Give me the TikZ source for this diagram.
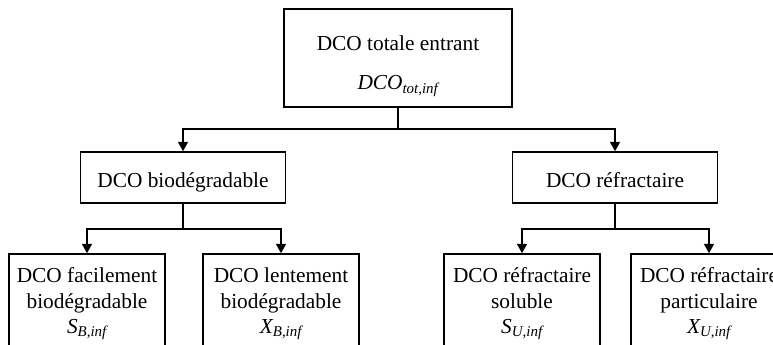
\documentclass[tikz,border=0pt]{standalone}
\usepackage{fontspec}
\setmainfont{Liberation Serif}
\usetikzlibrary{arrows.meta}

\tikzset{
  box/.style={draw, line width=1.2pt, align=center, inner sep=0pt,
    font=\fontsize{16}{19}\selectfont},
  top box/.style={box, minimum width=171pt, minimum height=73.5pt},
  mid box/.style={box, minimum width=153.75pt, minimum height=38.25pt,
    text height=15.6pt, text depth=0pt},
  leaf box/.style={box, minimum width=117pt, minimum height=75pt}
}
\newcommand{\dcovar}[2]{{\itshape #1\textsubscript{#2}}}

\begin{document}
\begin{tikzpicture}[x=0.75pt, y=-0.75pt, >={Triangle[length=7pt,width=7.5pt]}, line width=1.2pt]

  \useasboundingbox (0,0) rectangle (773,344);
  \clip (0,0) rectangle (773,344);

  \node [top box] (total) at (398,58) {\rule{0pt}{23pt}DCO totale entrant\\[10.5pt]\dcovar{DCO}{tot,inf}};

  \node [mid box] (bio) at (183,177.5) {DCO biodégradable};
  \node [mid box] (refr) at (615,177.5) {DCO réfractaire};

  \node [leaf box] (sbinf) at (87,304) {DCO facilement\\biodégradable\\\dcovar{S}{B,inf}};
  \node [leaf box] (xbinf) at (281,304) {DCO lentement\\biodégradable\\\dcovar{X}{B,inf}};
  \node [leaf box] (suinf) at (522,304) {DCO réfractaire\\soluble\\\dcovar{S}{U,inf}};
  \node [leaf box] (xuinf) at (709,304) {DCO réfractaire\\particulaire\\\dcovar{X}{U,inf}};

  \foreach \b in {bio,refr}
  \draw [->] (total.south) -- ++(0,21) -| (\b.north);

  \foreach \b in {sbinf,xbinf}
  \draw [->] (bio.south) -- ++(0,25) -| (\b.north);

  \foreach \b in {suinf,xuinf}
  \draw [->] (refr.south) -- ++(0,25) -| (\b.north);

\end{tikzpicture}
\end{document}
